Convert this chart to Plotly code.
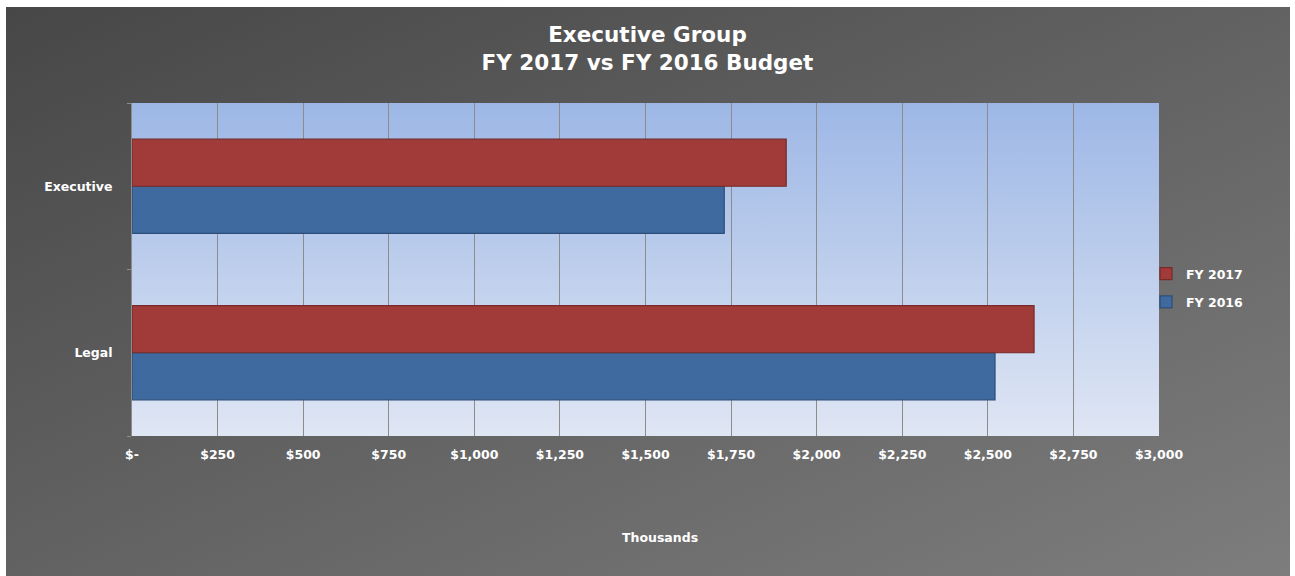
import base64
import plotly.graph_objects as go

# ---- data ----
categories = ["Legal", "Executive"]          # bottom -> top
fy2016 = [2521, 1730]
fy2017 = [2635, 1911]
tick_vals = [0, 250, 500, 750, 1000, 1250, 1500, 1750, 2000, 2250, 2500, 2750, 3000]
tick_text = ["$-", "$250", "$500", "$750", "$1,000", "$1,250", "$1,500", "$1,750",
             "$2,000", "$2,250", "$2,500", "$2,750", "$3,000"]

W, H = 1295, 576
L, R, T, B = 132, 1159, 103, 436
PW, PH = R - L, B - T


def px_x(x):
    return (x - L) / PW


def px_y(y):
    return (B - y) / PH


def svg_uri(svg):
    return "data:image/svg+xml;base64," + base64.b64encode(svg.encode()).decode()


bg_svg = ('<svg xmlns="http://www.w3.org/2000/svg" width="100" height="100" preserveAspectRatio="none" viewBox="0 0 100 100">'
          '<defs><linearGradient id="g" x1="0" y1="0" x2="1" y2="1">'
          '<stop offset="0" stop-color="#474747"/><stop offset="1" stop-color="#7d7d7d"/>'
          '</linearGradient></defs><rect width="100" height="100" fill="url(#g)"/></svg>')
plot_svg = ('<svg xmlns="http://www.w3.org/2000/svg" width="100" height="100" preserveAspectRatio="none" viewBox="0 0 100 100">'
            '<defs><linearGradient id="p" x1="0" y1="0" x2="0" y2="1">'
            '<stop offset="0" stop-color="#9db7e5"/><stop offset="1" stop-color="#dfe6f4"/>'
            '</linearGradient></defs><rect width="100" height="100" fill="url(#p)"/></svg>')

FONT = "DejaVu Sans"
TICK_SIZE = 12.5

fig = go.Figure()
fig.add_trace(go.Bar(
    y=categories, x=fy2016, orientation="h", name="FY 2016",
    legendgroup="fy2016", legendrank=2,
    marker=dict(color="#3e6a9f", line=dict(color="#2c4e78", width=1.2)),
))
fig.add_trace(go.Bar(
    y=categories, x=fy2017, orientation="h", name="FY 2017",
    legendgroup="fy2017", legendrank=1,
    marker=dict(color="#a13b3a", line=dict(color="#772a29", width=1.2)),
))

fig.update_layout(
    width=W, height=H,
    margin=dict(l=L, r=W - R, t=T, b=H - B, pad=0),
    paper_bgcolor="white",
    plot_bgcolor="rgba(0,0,0,0)",
    barmode="group", bargap=0.435, bargroupgap=0,
    title=dict(
        text="<b>Executive Group<br>FY 2017 vs FY 2016 Budget</b>",
        x=0.5, xref="container", xanchor="center",
        y=1 - 42 / H, yref="container", yanchor="middle",
        font=dict(family=FONT, size=21.5, color="white"),
    ),
    font=dict(family=FONT, size=12, color="white"),
    xaxis=dict(
        range=[0, 3000], tickvals=tick_vals, ticktext=tick_text,
        showgrid=True, gridcolor="#8c8c8c", gridwidth=1,
        zeroline=False, showline=False, ticks="",
        ticklabelstandoff=9,
        tickfont=dict(family=FONT, size=TICK_SIZE, color="white", weight="bold"),
        fixedrange=True,
    ),
    xaxis2=dict(
        overlaying="x", side="top", anchor="y", matches="x",
        range=[0, 3000], tickvals=tick_vals, showticklabels=False,
        ticks="outside", ticklen=3, tickcolor="#8c8c8c",
        showline=True, linecolor="#8c8c8c", showgrid=False, zeroline=False,
    ),
    yaxis=dict(
        categoryorder="array", categoryarray=categories,
        showline=True, linecolor="#8c8c8c", linewidth=1,
        ticks="outside", tickson="boundaries", ticklen=4, tickcolor="#8c8c8c",
        ticklabelstandoff=16,
        tickfont=dict(family=FONT, size=TICK_SIZE, color="white", weight="bold"),
        showgrid=False, zeroline=False,
    ),
    legend=dict(
        x=px_x(1146), y=px_y(288), xanchor="left", yanchor="middle",
        traceorder="grouped", tracegroupgap=9,
        bgcolor="rgba(0,0,0,0)",
        font=dict(family=FONT, size=12.5, color="white", weight="bold"),
    ),
    annotations=[dict(
        text="<b>Thousands</b>", x=px_x(660), y=px_y(537), xref="paper", yref="paper",
        showarrow=False, font=dict(family=FONT, size=12.5, color="white"),
        xanchor="center", yanchor="middle",
    )],
    images=[
        dict(source=svg_uri(bg_svg), xref="paper", yref="paper",
             x=px_x(6), y=px_y(7), sizex=(1290 - 6) / PW, sizey=(576 - 7) / PH,
             xanchor="left", yanchor="top", sizing="stretch", layer="below"),
        dict(source=svg_uri(plot_svg), xref="paper", yref="paper",
             x=0, y=1, sizex=1, sizey=1,
             xanchor="left", yanchor="top", sizing="stretch", layer="below"),
    ],
)

fig.write_html("out.html", post_script="document.body.style.margin='0';",
               config={"displayModeBar": False})
